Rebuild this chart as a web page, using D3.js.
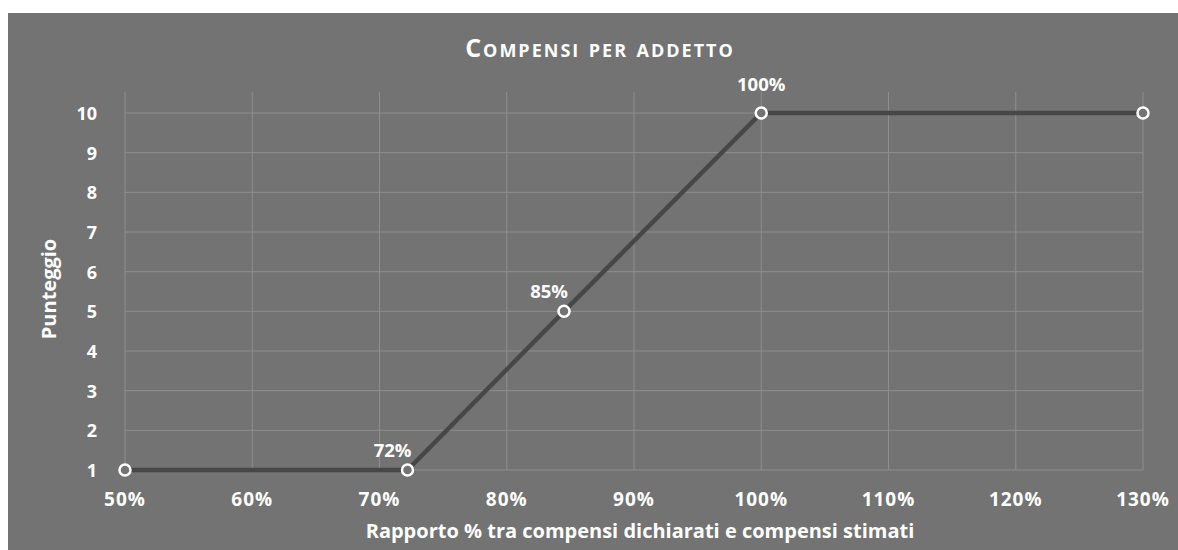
<!DOCTYPE html>
<html>
<head>
<meta charset="utf-8">
<script src="https://cdn.jsdelivr.net/npm/d3@7"></script>
<style>
	body { margin: 0; background: #fff; }
	text { font-family: 'Open Sans', sans-serif; font-weight: bold; fill: #fff; }
</style>
</head>
<body>
<div id="chart"></div>
<script>
// data
const ratios = [0.50, 0.722, 0.845, 1.00, 1.30];
const scores = [1, 1, 5, 10, 10];
const pointLabels = ['', '72%', '85%', '100%', ''];
const xTicks = [0.5, 0.6, 0.7, 0.8, 0.9, 1.0, 1.1, 1.2, 1.3];
const yTicks = [1, 2, 3, 4, 5, 6, 7, 8, 9, 10];

const W = 1178, H = 550;
const margin = { top: 92, right: 35, bottom: 80, left: 125 };
const width = W - margin.left - margin.right,
	height = H - margin.top - margin.bottom;

const svg = d3.select('#chart')
	.append('svg')
	.attr('width', W)
	.attr('height', H);

// grey chart area
svg.append('rect')
	.attr('x', 8).attr('y', 13)
	.attr('width', W - 8).attr('height', H - 13)
	.attr('fill', '#737373');

const g = svg.append('g')
	.attr('transform', `translate(${margin.left},${margin.top})`);

const x = d3.scaleLinear().domain([0.5, 1.3]).range([0, width]);
// axis top sits a bit above 10
const y = d3.scaleLinear().domain([1, 10.53]).range([height, 0]);

// gridlines
g.selectAll('.vgrid')
	.data(xTicks)
	.join('line')
	.attr('x1', d => x(d)).attr('x2', d => x(d))
	.attr('y1', 0).attr('y2', height)
	.attr('stroke', '#8f8f8f').attr('stroke-width', 1);

g.selectAll('.hgrid')
	.data(yTicks)
	.join('line')
	.attr('x1', 0).attr('x2', width)
	.attr('y1', d => y(d)).attr('y2', d => y(d))
	.attr('stroke', '#8f8f8f').attr('stroke-width', 1);

// tick labels
g.selectAll('.xlab')
	.data(xTicks)
	.join('text')
	.attr('x', d => x(d))
	.attr('y', height + 36)
	.attr('text-anchor', 'middle')
	.style('font-size', '19px')
	.style('letter-spacing', '1px')
	.text(d => d3.format('.0%')(d));

g.selectAll('.ylab')
	.data(yTicks)
	.join('text')
	.attr('x', -28)
	.attr('y', d => y(d) + 7)
	.attr('text-anchor', 'end')
	.style('font-size', '18px')
	.text(d => d);

// axis titles
svg.append('text')
	.attr('x', margin.left + width / 2 + 6)
	.attr('y', 538)
	.attr('text-anchor', 'middle')
	.style('font-size', '20px')
	.text('Rapporto % tra compensi dichiarati e compensi stimati');

svg.append('text')
	.attr('transform', `translate(56,${margin.top + height / 2 + 8}) rotate(-90)`)
	.attr('text-anchor', 'middle')
	.style('font-size', '20px')
	.text('Punteggio');

// title
svg.append('text')
	.attr('x', 600)
	.attr('y', 57)
	.attr('text-anchor', 'middle')
	.style('font-size', '25px')
	.style('font-variant', 'small-caps')
	.style('letter-spacing', '2px')
	.text('Compensi per addetto');

// the line
const pts = ratios.map((r, i) => ({ r: r, s: scores[i], label: pointLabels[i] }));

g.append('path')
	.datum(pts)
	.attr('fill', 'none')
	.attr('stroke', '#474747')
	.attr('stroke-width', 4.5)
	.attr('d', d3.line().x(d => x(d.r)).y(d => y(d.s)));

g.selectAll('circle')
	.data(pts)
	.join('circle')
	.attr('cx', d => x(d.r))
	.attr('cy', d => y(d.s))
	.attr('r', 5.5)
	.attr('fill', '#737373')
	.attr('stroke', '#fff')
	.attr('stroke-width', 2.5);

// data labels: above-left, except the top one centred above
g.selectAll('.plab')
	.data(pts.filter(d => d.label))
	.join('text')
	.attr('x', d => d.s === 10 ? x(d.r) : x(d.r) + 4)
	.attr('y', d => d.s === 10 ? y(d.s) - 22 : y(d.s) - 13)
	.attr('text-anchor', d => d.s === 10 ? 'middle' : 'end')
	.style('font-size', '18.5px')
	.text(d => d.label);
</script>
</body>
</html>
